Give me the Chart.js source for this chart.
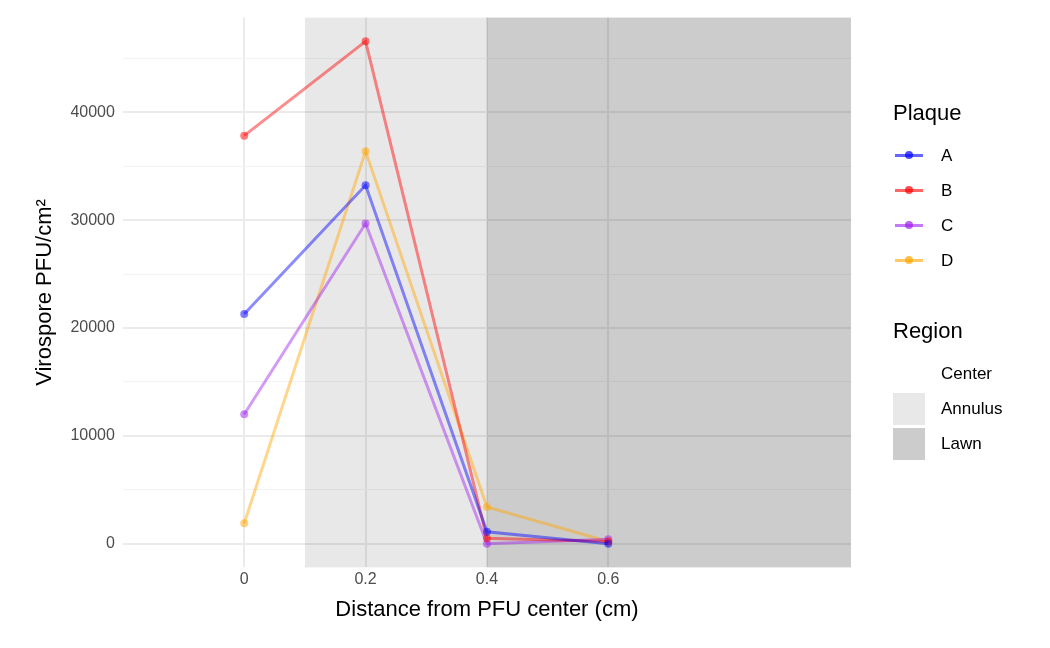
<!DOCTYPE html>
<html>
<head>
<meta charset="utf-8">
<script src="https://cdn.jsdelivr.net/npm/chart.js@4/dist/chart.umd.min.js"></script>
<style>
  body { margin: 0; background: #fff; font-family: "Liberation Sans", Arial, sans-serif; }
  #wrap { position: relative; width: 1050px; height: 648px; }
  #legend { position: absolute; left: 893px; top: 100px; color: #000; }
  .ttl { font-size: 22px; margin-bottom: 12px; }
  .row { display: flex; align-items: center; height: 35px; font-size: 17px; }
  .key { width: 32px; height: 32px; margin-right: 16px; position: relative; }
  .key .ln { position: absolute; left: 2px; right: 2px; top: 14px; height: 3px; }
  .key .pt { position: absolute; left: 12px; top: 11px; width: 8px; height: 8px; border-radius: 50%; }
</style>
</head>
<body>
<div id="wrap">
  <canvas id="c" width="1050" height="648"></canvas>
  <div id="legend"></div>
</div>
<script>
// datos
const distances = [0, 0.2, 0.4, 0.6];
const plaques = ['A', 'B', 'C', 'D'];
const plaqueA = [21300, 33250, 1100, 0];
const plaqueB = [37850, 46600, 500, 200];
const plaqueC = [12000, 29700, 0, 400];
const plaqueD = [1900, 36400, 3400, 200];
const regions = ['Center', 'Annulus', 'Lawn'];
const regionStart = [-0.2, 0.1, 0.4];
const regionEnd = [0.1, 0.4, 1.0];
const xTicks = [0, 0.2, 0.4, 0.6];
const yTicks = [0, 5000, 10000, 15000, 20000, 25000, 30000, 35000, 40000, 45000];

const colors = ['0,0,255', '255,0,0', '160,32,240', '255,165,0'];
const regionFill = ['rgba(0,0,0,0)', 'rgba(0,0,0,0.09)', 'rgba(0,0,0,0.2)'];
const series = [plaqueA, plaqueB, plaqueC, plaqueD];

const regionPlugin = {
    id: 'regions',
    beforeDatasetsDraw(chart) {
        const { ctx, chartArea, scales } = chart;
        ctx.save();
        regions.forEach((r, i) => {
            const x0 = scales.x.getPixelForValue(regionStart[i]);
            const x1 = scales.x.getPixelForValue(regionEnd[i]);
            ctx.fillStyle = regionFill[i];
            ctx.fillRect(x0, chartArea.top, x1 - x0, chartArea.bottom - chartArea.top);
        });
        ctx.restore();
    }
};

new Chart(document.getElementById('c'), {
    type: 'scatter',
    data: {
        datasets: plaques.map((p, i) => ({
            label: p,
            data: distances.map((d, j) => ({ x: d, y: series[i][j] })),
            showLine: true,
            borderColor: `rgba(${colors[i]},0.45)`,
            backgroundColor: `rgba(${colors[i]},0.5)`,
            borderWidth: 3,
            pointRadius: 4,
            pointBorderWidth: 0
        }))
    },
    options: {
        responsive: false,
        animation: false,
        layout: { padding: { top: 13, right: 199, bottom: 21, left: 28 } },
        plugins: { legend: { display: false }, tooltip: { enabled: false } },
        scales: {
            x: {
                type: 'linear', min: -0.2, max: 1.0,
                afterBuildTicks: s => { s.ticks = xTicks.map(v => ({ value: v })); },
                ticks: { color: '#4d4d4d', font: { size: 16 }, callback: v => v === 0 ? '0' : v.toString() },
                grid: { color: '#ebebeb', lineWidth: 2, drawTicks: false },
                border: { display: false },
                title: { display: true, text: 'Distance from PFU center (cm)', color: '#000', font: { size: 22 }, padding: { top: 4 } }
            },
            y: {
                min: -2200, max: 48800,
                afterBuildTicks: s => { s.ticks = yTicks.map(v => ({ value: v })); },
                ticks: { color: '#4d4d4d', font: { size: 16 }, padding: 8,
                    callback: v => v % 10000 === 0 ? v.toString() : '' },
                grid: { color: c => c.tick && c.tick.value % 10000 === 0 ? '#ebebeb' : '#f3f3f3',
                        lineWidth: c => c.tick && c.tick.value % 10000 === 0 ? 2 : 1, drawTicks: false },
                border: { display: false },
                title: { display: true, text: 'Virospore PFU/cm²', color: '#000', font: { size: 22 } }
            }
        }
    },
    plugins: [regionPlugin]
});

// leyenda
const leg = document.getElementById('legend');
let html = '<div class="ttl">Plaque</div>';
plaques.forEach((p, i) => {
    html += `<div class="row"><div class="key"><div class="ln" style="background:rgba(${colors[i]},0.6)"></div>` +
        `<div class="pt" style="background:rgba(${colors[i]},0.7)"></div></div>${p}</div>`;
});
html += '<div class="ttl" style="margin-top:40px">Region</div>';
regions.forEach((r, i) => {
    html += `<div class="row"><div class="key" style="background:${regionFill[i]}"></div>${r}</div>`;
});
leg.innerHTML = html;
</script>
</body>
</html>
